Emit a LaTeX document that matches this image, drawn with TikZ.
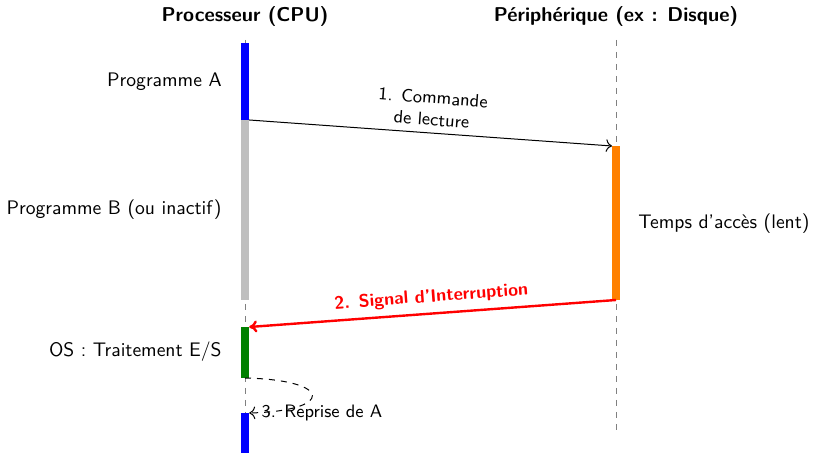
\documentclass[tikz,border=0pt]{standalone}
\usetikzlibrary{arrows.meta}
\renewcommand{\familydefault}{\sfdefault}
\begin{document}
\begin{tikzpicture}[x=0.5pt,y=-0.5pt,
  every node/.style={font=\fontsize{9.8}{12}\selectfont},
  head/.style={font=\bfseries},
  lifeline/.style={gray, dashed, line width=0.4pt},
  cpubar/.style={minimum width=4.2pt, inner sep=0pt, outer sep=0pt},
  devbar/.style={minimum width=4pt, inner sep=0pt, outer sep=0pt},
  phase/.style={anchor=east, inner sep=0pt},
  msglabel/.style={font=\small},
  msg/.style={-{To[length=3pt]}, line width=0.5pt},
  irq/.style={-{To[length=4pt,width=6pt]}, red, line width=1.2pt}]
\useasboundingbox (0,0) rectangle (813,453);

% column headings
\node[head] (hcpu) at (245,17) {Processeur (CPU)};
\node[head] (hdev) at (616,17) {Périphérique (ex : Disque)};

% lifelines
\coordinate (cpuTop) at (245,40);
\coordinate (cpuBot) at (245,430);
\coordinate (devTop) at (616,40);
\coordinate (devBot) at (616,430);
\draw[lifeline] (cpuTop) -- (cpuBot);
\draw[lifeline] (devTop) -- (devBot);

% activity bars on the CPU side
\node[cpubar, fill=blue, minimum height=38.5pt] (progA) at (245,81.5) {};
\node[cpubar, fill=gray!50, minimum height=90pt] (progB) at (245,210) {};
\node[cpubar, fill=green!50!black, minimum height=25.5pt] (os) at (245,352.5) {};
\node[cpubar, fill=blue, minimum height=20pt] (progA2) at (245,433) {};

% activity bar on the device side
\node[devbar, fill=orange, minimum height=77pt] (acces) at (616,223) {};

% phase labels
\node[phase] (lA) at (222,82) {Programme A};
\node[phase] (lB) at (222,210) {Programme B (ou inactif)};
\node[phase] (lOS) at (222,352) {OS : Traitement E/S};
\node[anchor=west, inner sep=0pt] (lT) at (638,224) {Temps d'accès (lent)};

% messages
\draw[msg] (progA.south east) -- (acces.north west)
  node[midway, sloped, above=0pt, align=center, msglabel] {1. Commande\\de lecture};
\draw[irq] (acces.south) -- (os.north east)
  node[midway, sloped, above=0pt, msglabel, font=\small\bfseries] {2. Signal d'Interruption};
\draw[msg, dashed] (os.south) .. controls (334,380) and (334,411) .. (progA2.north east)
  node[right=6pt, inner sep=0pt, msglabel] {3. Reprise de A};
\end{tikzpicture}
\end{document}
